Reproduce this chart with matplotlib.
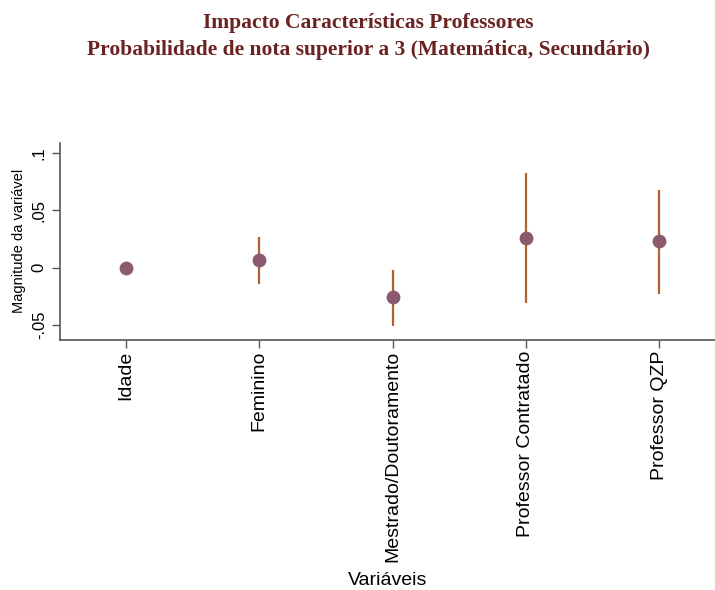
import matplotlib
matplotlib.use("Agg")
import matplotlib.pyplot as plt
import numpy as np

variables = ["Idade", "Feminino", "Mestrado/Doutoramento", "Professor Contratado", "Professor QZP"]
estimates = [0.0, 0.007, -0.026, 0.026, 0.023]
ci_low = [0.0, -0.014, -0.051, -0.031, -0.023]
ci_high = [0.0, 0.027, -0.002, 0.083, 0.068]
y_ticks = [-0.05, 0.0, 0.05, 0.1]
y_tick_labels = ["-.05", "0", ".05", ".1"]

plt.rcParams["font.family"] = ["Liberation Sans", "DejaVu Sans"]

fig = plt.figure(figsize=(7.15, 5.9), dpi=100)
ax = fig.add_axes([0.084, 0.424, 0.916, 0.334])

x = np.arange(len(variables))
ax.vlines(x, ci_low, ci_high, color="#b0622e", linewidth=1.6, zorder=2)
ax.scatter(x, estimates, s=80, color="#8c5a6e", zorder=3)

ax.set_xlim(-0.495, 4.42)
ax.set_ylim(-0.0632, 0.109)
ax.set_xticks(x)
ax.set_xticklabels(variables, rotation=90, fontsize=14)
ax.set_yticks(y_ticks)
ax.set_yticklabels(y_tick_labels, rotation=90, va="center", fontsize=12)
ax.set_ylabel("Magnitude da variável", fontsize=10.5)
ax.set_xlabel("Variáveis", fontsize=14, labelpad=7)

for side in ["top", "right"]:
    ax.spines[side].set_visible(False)
for side in ["left", "bottom"]:
    ax.spines[side].set_color("#555555")
    ax.spines[side].set_linewidth(1.2)
ax.tick_params(color="#555555", length=6, width=1)
ax.tick_params(axis="x", pad=2)

title_font = ["Liberation Serif", "DejaVu Serif"]
fig.text(0.515, 0.961, "Impacto Características Professores", ha="center", va="center",
         fontsize=15.5, fontweight="bold", color="#6b2222", family=title_font)
fig.text(0.515, 0.915, "Probabilidade de nota superior a 3 (Matemática, Secundário)", ha="center", va="center",
         fontsize=15.5, fontweight="bold", color="#6b2222", family=title_font)

fig.savefig("out.png", dpi=100)
